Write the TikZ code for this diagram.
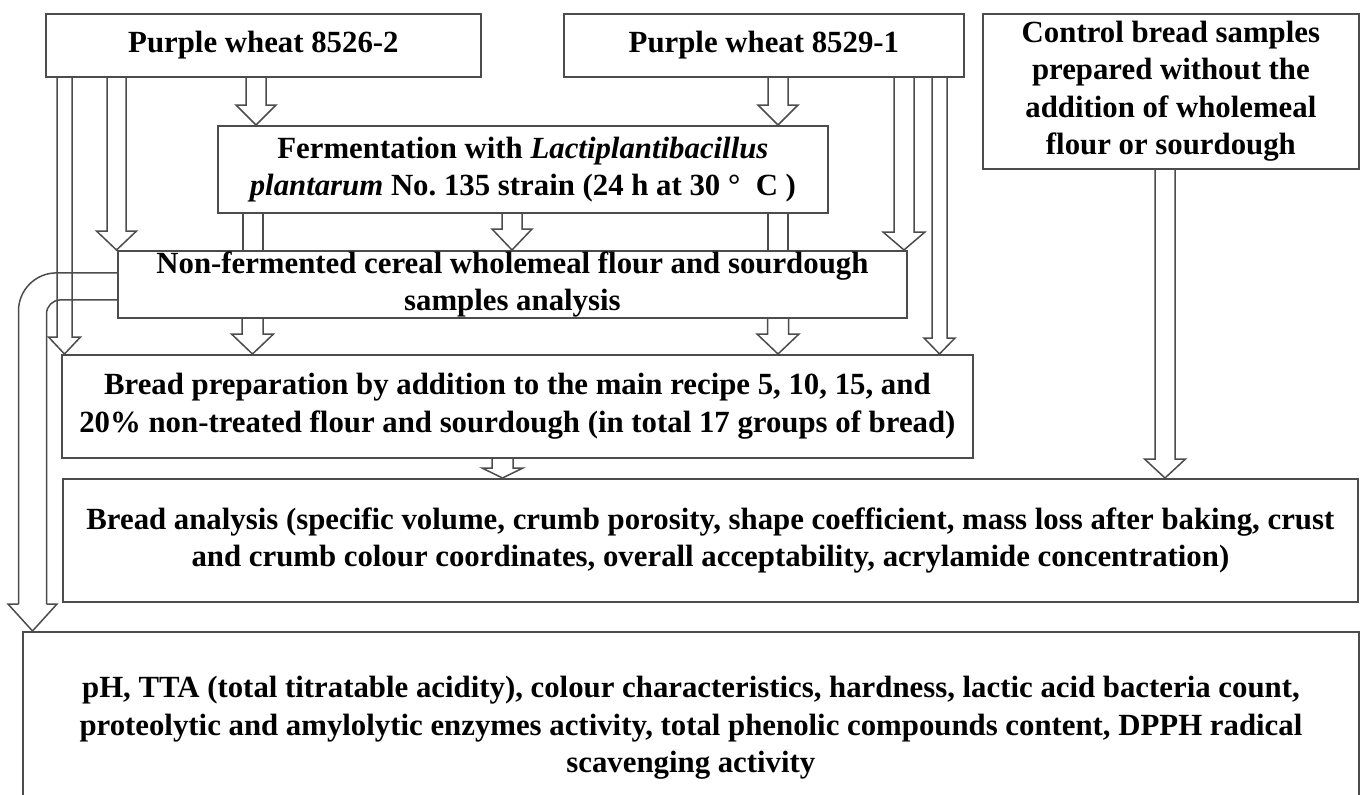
\documentclass[tikz,border=0pt]{standalone}
\usepackage{fontspec}
\setmainfont{Liberation Serif}
\usetikzlibrary{calc}
\frenchspacing

\tikzset{
    box/.style={draw=black!70, line width=1.8pt, rectangle, inner sep=0pt, anchor=north west,
                align=center, font=\fontsize{30.8}{37.5}\selectfont\bfseries},
    flow/.style={draw=black!70, line width=1.5pt, line join=miter}
}

% hollow arrow: x, half shaft, half head, head length, from, to
\newcommand{\blockarrow}[6]{%
    \coordinate (ax) at (#1,0);
    \draw[flow] ($(ax |- #5.south)+(-#2,0)$) -- ($(ax |- #6.north)+(-#2,-#4)$)
        -- ($(ax |- #6.north)+(-#3,-#4)$) -- (ax |- #6.north)
        -- ($(ax |- #6.north)+(#3,-#4)$) -- ($(ax |- #6.north)+(#2,-#4)$)
        -- ($(ax |- #5.south)+(#2,0)$);
}
% two lines, no head: x, half shaft, from, to
\newcommand{\pipe}[4]{%
    \coordinate (ax) at (#1,0);
    \draw[flow] ($(ax |- #3.south)+(-#2,0)$) -- ($(ax |- #4.north)+(-#2,0)$);
    \draw[flow] ($(ax |- #3.south)+(#2,0)$) -- ($(ax |- #4.north)+(#2,0)$);
}

\begin{document}
\begin{tikzpicture}[x=1pt, y=-1pt]
    \path[use as bounding box, fill=white] (0,0) rectangle (1361,795);

    % Wheat samples
    \node[box, minimum width=435pt, minimum height=63pt] (p1) at (45,13) {Purple wheat 8526-2};
    \node[box, minimum width=400pt, minimum height=63pt] (p2) at (563,13) {Purple wheat 8529-1};

    % Control
    \node[box, minimum width=376pt, minimum height=155pt] (ctrl) at (982,13)
        {Control bread samples\\prepared without the\\addition of wholemeal\\flour or sourdough};

    % Fermentation
    \node[box, minimum width=610pt, minimum height=87pt] (ferm) at (217,125)
        {Fermentation with \textit{Lactiplantibacillus}\\\textit{plantarum} No. 135 strain (24 h at 30 °~~C )};

    % Analysis of flour and sourdough
    \node[box, minimum width=789pt, minimum height=67pt] (nonferm) at (117,250)
        {Non-fermented cereal wholemeal flour and sourdough\\samples analysis};

    % Bread
    \node[box, minimum width=911pt, minimum height=103pt] (prep) at (61,354)
        {Bread preparation by addition to the main recipe 5, 10, 15, and\\20\% non-treated flour and sourdough (in total 17 groups of bread)};
    \node[box, minimum width=1295pt, minimum height=123pt] (analysis) at (62,478)
        {Bread analysis (specific volume, crumb porosity, shape coefficient, mass loss after baking, crust\\and crumb colour coordinates, overall acceptability, acrylamide concentration)};

    % Final analysis
    \node[box, minimum width=1336pt, minimum height=192pt] (final) at (22,631)
        {pH, TTA (total titratable acidity), colour characteristics, hardness, lactic acid bacteria count,\\proteolytic and amylolytic enzymes activity, total phenolic compounds content, DPPH radical\\scavenging activity};

    % Arrows
    \blockarrow{64.5}{7.5}{16}{17}{p1}{prep}
    \blockarrow{116.5}{9.5}{20}{19}{p1}{nonferm}
    \blockarrow{256}{10}{20}{20}{p1}{ferm}
    \blockarrow{778}{10}{20}{20}{p2}{ferm}
    \blockarrow{904}{10}{21}{18}{p2}{nonferm}
    \blockarrow{939.5}{7.5}{15.5}{16}{p2}{prep}
    \pipe{253}{10}{ferm}{nonferm}
    \pipe{778}{10}{ferm}{nonferm}
    \blockarrow{512}{10}{20}{21}{ferm}{nonferm}
    \blockarrow{252.5}{10.5}{21}{20}{nonferm}{prep}
    \blockarrow{778}{10.5}{21}{20}{nonferm}{prep}
    \blockarrow{502.5}{10.5}{20.5}{10}{prep}{analysis}
    \blockarrow{1165}{10}{20.5}{19}{ctrl}{analysis}

    % Curved arrow to final
    \coordinate (ax) at (32.5,0);
    \draw[flow, rounded corners=38pt] ($(nonferm.west)+(0,-11.5)$) -| ($(ax |- final.north)+(-14,-27)$);
    \draw[flow, rounded corners=14pt] ($(nonferm.west)+(0,15.5)$) -| ($(ax |- final.north)+(14,-27)$);
    \draw[flow] ($(ax |- final.north)+(-14,-27)$) -- ($(ax |- final.north)+(-24.5,-27)$)
        -- (ax |- final.north) -- ($(ax |- final.north)+(24.5,-27)$) -- ($(ax |- final.north)+(14,-27)$);
\end{tikzpicture}
\end{document}
